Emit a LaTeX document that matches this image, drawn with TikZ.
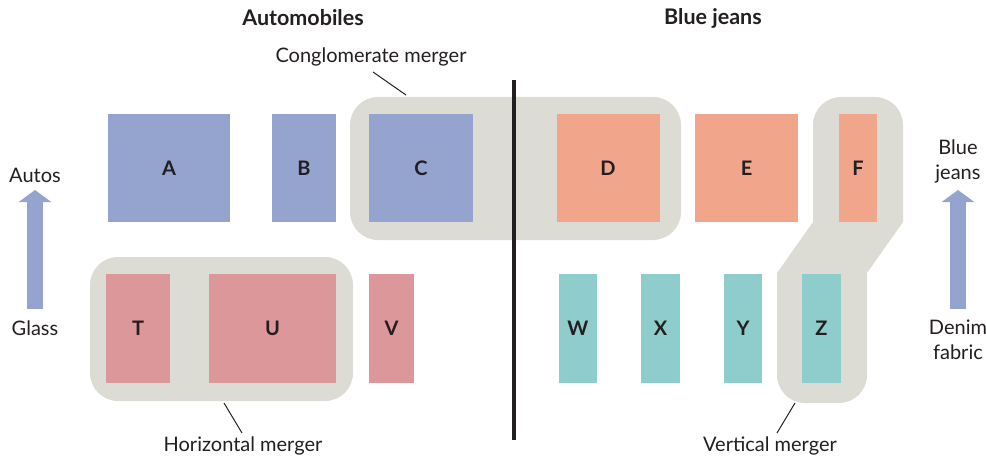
\documentclass[tikz,border=0pt]{standalone}
\usepackage{fontspec}
\setmainfont{Lato}
\usetikzlibrary{arrows.meta}
\definecolor{cblue}{HTML}{95A3CF}
\definecolor{csalmon}{HTML}{F1A68B}
\definecolor{cpink}{HTML}{DB9799}
\definecolor{cteal}{HTML}{8ECDCB}
\definecolor{cgray}{HTML}{DCDCD4}
\definecolor{cink}{HTML}{231F20}
\tikzset{
  box/.style={inner sep=0pt, font=\fontsize{20}{22}\selectfont\bfseries, text=cink},
  bbox/.style={box, fill=cblue},
  sbox/.style={box, fill=csalmon},
  pbox/.style={box, fill=cpink},
  tbox/.style={box, fill=cteal},
  region/.style={fill=cgray},
  lbl/.style={font=\fontsize{20}{25}\selectfont, text=cink, align=center},
  ttl/.style={font=\fontsize{21.5}{25}\selectfont\bfseries, text=cink},
  leader/.style={draw=cink, line width=1pt},
  bigarrow/.style={draw=cblue, line width=16pt, -{Triangle[width=32pt,length=12pt]}}
}
\begin{document}
\begin{tikzpicture}[x=1pt,y=-1pt]
\useasboundingbox (0,0) rectangle (986,460);
% regions
\fill[region, rounded corners=28pt] (350,97) rectangle (681,240);
\fill[region, rounded corners=28pt] (90,257) rectangle (353,401);
\fill[region] (813,180) [rounded corners=28pt] -- (813,97) -- (903,97) -- (903,180) [sharp corners] -- (903,222) -- (867,273) [rounded corners=28pt] -- (867,403) -- (777,403) -- (777,330) [sharp corners] -- (777,273) -- (813,222) -- cycle;
% divider
\draw[cink, line width=4pt] (514,80) -- (514,440);
% top row
\node[bbox, minimum width=122pt, minimum height=108pt] (A) at (169,168) {A};
\node[bbox, minimum width=64pt, minimum height=108pt] (B) at (304,168) {B};
\node[bbox, minimum width=104pt, minimum height=108pt] (C) at (421,168) {C};
\node[sbox, minimum width=103pt, minimum height=108pt] (D) at (608,168) {D};
\node[sbox, minimum width=103pt, minimum height=108pt] (E) at (746.5,168) {E};
\node[sbox, minimum width=38pt, minimum height=108pt] (F) at (858,168) {F};
% bottom row
\node[pbox, minimum width=64pt, minimum height=109pt] (T) at (138,328.5) {T};
\node[pbox, minimum width=127pt, minimum height=109pt] (U) at (272.5,328.5) {U};
\node[pbox, minimum width=45pt, minimum height=109pt] (V) at (391.5,328.5) {V};
\node[tbox, minimum width=38pt, minimum height=109pt] (W) at (578,328.5) {W};
\node[tbox, minimum width=39pt, minimum height=109pt] (X) at (660.5,328.5) {X};
\node[tbox, minimum width=38pt, minimum height=109pt] (Y) at (743,328.5) {Y};
\node[tbox, minimum width=39pt, minimum height=109pt] (Z) at (821.5,328.5) {Z};
% titles
\node[ttl] (auto) at (303,18) {Automobiles};
\node[ttl] (jeans) at (713,18) {Blue jeans};
% merger labels
\node[lbl] (cong) at (371,57) {Conglomerate merger};
\node[lbl] (horiz) at (243,446) {Horizontal merger};
\node[lbl] (vert) at (770,446) {Vertical merger};
\coordinate (congend) at (406,95);
\coordinate (horizend) at (224,403);
\coordinate (vertend) at (795,403);
\draw[leader] (373,72) -- (congend);
\draw[leader] (242,433) -- (horizend);
\draw[leader] (777,433) -- (vertend);
% side labels and arrows
\node[lbl] (autos) at (35,175) {Autos};
\node[lbl] (glass) at (35,328) {Glass};
\node[lbl, text width=60pt] (bj) at (958,161) {Blue\\jeans};
\node[lbl, text width=60pt] (denim) at (958,340) {Denim\\fabric};
\coordinate (la0) at (35,309);
\coordinate (la1) at (35,190);
\coordinate (ra0) at (958,309);
\coordinate (ra1) at (958,190);
\draw[bigarrow] (la0) -- (la1);
\draw[bigarrow] (ra0) -- (ra1);
\end{tikzpicture}
\end{document}
